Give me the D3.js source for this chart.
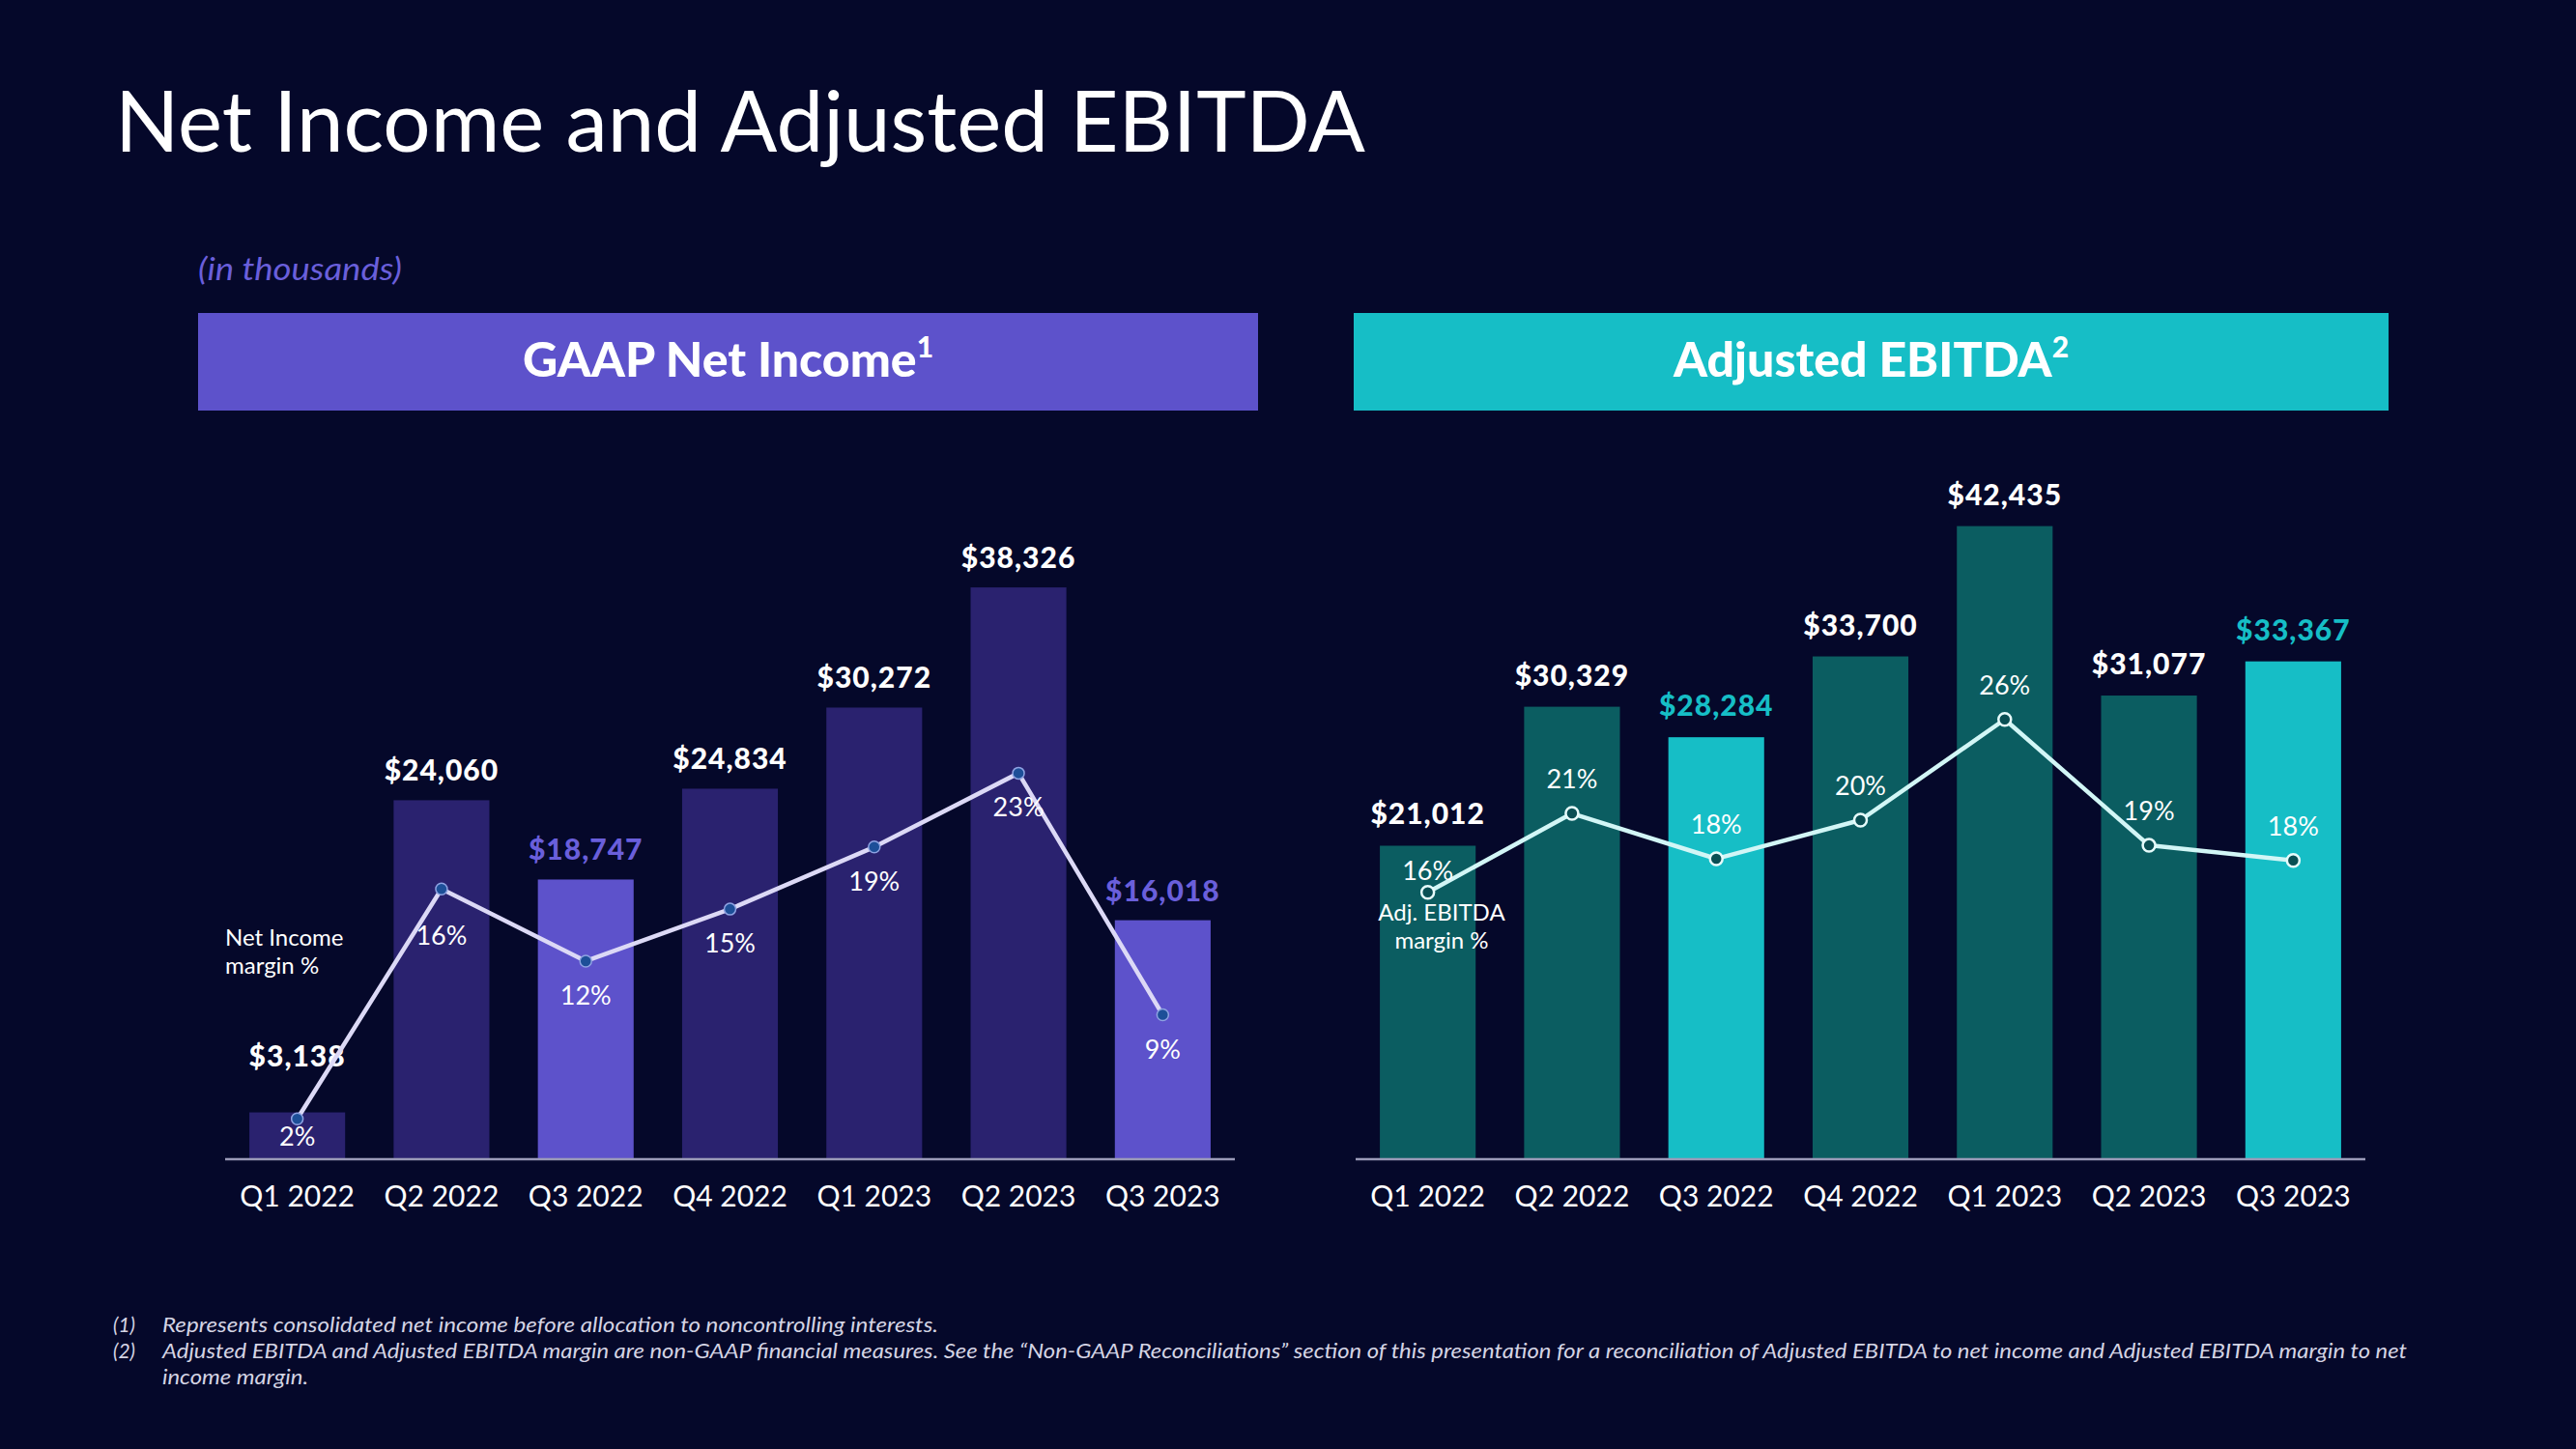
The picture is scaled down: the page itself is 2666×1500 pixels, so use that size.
<!DOCTYPE html>
<html>
<head>
<meta charset="utf-8">
<script src="https://cdn.jsdelivr.net/npm/d3@7"></script>
<style>
  html, body { margin: 0; padding: 0; background: #05082a; }
  svg { display: block; }
</style>
</head>
<body>
<script>
// ---------- DATA ----------
const quarters = ["Q1 2022", "Q2 2022", "Q3 2022", "Q4 2022", "Q1 2023", "Q2 2023", "Q3 2023"];
const netIncome = [3138, 24060, 18747, 24834, 30272, 38326, 16018];          // $ thousands
const netIncomeMargin = [2.4, 16.1, 11.8, 14.9, 18.6, 23.0, 8.6];            // %
const adjEbitda = [21012, 30329, 28284, 33700, 42435, 31077, 33367];        // $ thousands
const adjEbitdaMargin = [15.9, 20.6, 17.9, 20.2, 26.2, 18.7, 17.8];          // %
const highlightQuarters = ["Q3 2022", "Q3 2023"];

const titleText = "Net Income and Adjusted EBITDA";
const unitText = "(in thousands)";
const footnotes = [
  ["(1)", "Represents consolidated net income before allocation to noncontrolling interests."],
  ["(2)", "Adjusted EBITDA and Adjusted EBITDA margin are non-GAAP financial measures. See the \u201cNon-GAAP Reconciliations\u201d section of this presentation  for a reconciliation of Adjusted EBITDA to net income and Adjusted EBITDA margin to net"],
  ["", "income margin."]
];

// ---------- STYLE ----------
const W = 2666, H = 1500;
const BG = "#05082a";
const FONT = "Lato, 'Open Sans', sans-serif";
const PURPLE = "#5d52cb", PURPLE_DARK = "#2a226f", PURPLE_TEXT = "#6a5fdb";
const TEAL = "#16bec6", TEAL_DARK = "#0b5d61";

const svg = d3.select("body").append("svg").attr("width", W).attr("height", H);
svg.append("rect").attr("width", W).attr("height", H).attr("fill", BG);

// Title
svg.append("text").attr("x", 119).attr("y", 157)
  .attr("font-family", FONT).attr("font-size", 88).attr("fill", "#ffffff")
  .attr("textLength", 1294).attr("lengthAdjust", "spacingAndGlyphs")
  .text(titleText);

svg.append("text").attr("x", 205).attr("y", 290)
  .attr("font-family", FONT).attr("font-style", "italic").attr("font-size", 32)
  .attr("fill", "#6a5fdb").attr("textLength", 211).attr("lengthAdjust", "spacingAndGlyphs")
  .text(unitText);

// Scales
const baseY = 1200, topY = 505;
const y = d3.scaleLinear().domain([0, 45000]).range([baseY, topY]);
const y2 = d3.scaleLinear().domain([0, 40]).range([baseY, topY]);
const fmtMoney = v => "$" + d3.format(",")(v);
const fmtPct = v => d3.format(".0f")(v) + "%";

function panel(opts) {
  const g = svg.append("g");
  // header
  g.append("rect").attr("x", opts.boxX0).attr("y", 324)
    .attr("width", opts.boxX1 - opts.boxX0).attr("height", 101).attr("fill", opts.boxColor);
  const ht = g.append("text").attr("x", (opts.boxX0 + opts.boxX1) / 2).attr("y", 390)
    .attr("text-anchor", "middle").attr("font-family", FONT).attr("font-weight", 900)
    .attr("font-size", 50).attr("fill", "#ffffff");
  ht.append("tspan").text(opts.header);
  ht.append("tspan").attr("dy", -20).attr("font-size", 30).text(opts.sup);

  const x = d3.scaleBand().domain(quarters).range([opts.axX0, opts.axX1])
    .paddingInner(0.336).paddingOuter(0.168);

  // bars
  g.selectAll("rect.bar").data(quarters).enter().append("rect").attr("class", "bar")
    .attr("x", d => x(d)).attr("width", x.bandwidth())
    .attr("y", (d, i) => y(opts.values[i]))
    .attr("height", (d, i) => baseY - y(opts.values[i]))
    .attr("fill", d => highlightQuarters.includes(d) ? opts.hiColor : opts.darkColor);

  // axis
  const axis = d3.axisBottom(x).tickSize(0).tickPadding(28);
  const ag = g.append("g").attr("transform", `translate(0,${baseY})`).call(axis);
  ag.select(".domain").attr("stroke", "#9a9ab8").attr("stroke-width", 2.5)
    .attr("d", `M${opts.axX0},0H${opts.axX1}`);
  ag.selectAll(".tick text").attr("font-family", FONT).attr("font-size", 30)
    .attr("fill", "#ffffff").attr("dy", "0.71em");

  // value labels
  g.selectAll("text.val").data(quarters).enter().append("text").attr("class", "val")
    .attr("x", d => x(d) + x.bandwidth() / 2)
    .attr("y", (d, i) => y(opts.values[i]) - opts.valGap(i))
    .attr("text-anchor", "middle").attr("font-family", FONT).attr("font-weight", 900)
    .attr("font-size", 30).attr("letter-spacing", 1)
    .attr("fill", d => highlightQuarters.includes(d) ? opts.hiText : "#ffffff")
    .text((d, i) => fmtMoney(opts.values[i]));

  // margin line
  const line = d3.line().x((d, i) => x(quarters[i]) + x.bandwidth() / 2).y(d => y2(d));
  g.append("path").datum(opts.margins).attr("d", line).attr("fill", "none")
    .attr("stroke", opts.lineColor).attr("stroke-width", 4.5).attr("stroke-linejoin", "round");

  g.selectAll("circle.pt").data(opts.margins).enter().append("circle").attr("class", "pt")
    .attr("cx", (d, i) => x(quarters[i]) + x.bandwidth() / 2).attr("cy", d => y2(d))
    .attr("r", opts.markerR).attr("fill", opts.markerFill)
    .attr("stroke", opts.markerStroke).attr("stroke-width", opts.markerSW);

  g.selectAll("text.pct").data(opts.margins).enter().append("text").attr("class", "pct")
    .attr("x", (d, i) => x(quarters[i]) + x.bandwidth() / 2)
    .attr("y", (d, i) => opts.pctY(y2(d), i))
    .attr("text-anchor", "middle").attr("font-family", FONT).attr("font-size", 27)
    .attr("fill", "#ffffff").text(d => fmtPct(d));

  // annotation
  const an = g.append("text").attr("font-family", FONT).attr("font-size", 24)
    .attr("fill", "#ffffff").attr("text-anchor", opts.annAnchor);
  opts.annLines.forEach((t, k) => {
    an.append("tspan").attr("x", opts.annX).attr("y", opts.annY + k * 29).text(t);
  });
  return x;
}

panel({
  boxX0: 205, boxX1: 1302, boxColor: PURPLE, header: "GAAP Net Income", sup: "1",
  axX0: 233, axX1: 1278,
  values: netIncome, margins: netIncomeMargin,
  darkColor: PURPLE_DARK, hiColor: PURPLE, hiText: PURPLE_TEXT,
  valGap: i => i === 0 ? 48 : 20,
  lineColor: "#dcd9f6", markerR: 6, markerFill: "#1d4f98", markerStroke: "#8ea2e2", markerSW: 1.5,
  pctY: (py, i) => Math.min(py + (i === 1 ? 58 : 45), baseY - 14),
  annLines: ["Net Income", "margin %"], annX: 233, annY: 979, annAnchor: "start"
});

panel({
  boxX0: 1401, boxX1: 2472, boxColor: TEAL, header: "Adjusted EBITDA", sup: "2",
  axX0: 1403, axX1: 2448,
  values: adjEbitda, margins: adjEbitdaMargin,
  darkColor: TEAL_DARK, hiColor: TEAL, hiText: TEAL,
  valGap: i => 22,
  lineColor: "#d2f6f6", markerR: 6.5, markerFill: "#0a4f54", markerStroke: "#e6fbfb", markerSW: 2.5,
  pctY: (py, i) => py - (i === 0 ? 13 : 26),
  annLines: ["Adj. EBITDA", "margin %"], annX: 1492, annY: 953, annAnchor: "middle"
});

// Footnotes
const fn = svg.append("g").attr("font-family", FONT).attr("font-style", "italic")
  .attr("font-size", 21).attr("fill", "#d4d4e4");
const fnWidths = [803, 2323, 151];
footnotes.forEach((f, k) => {
  const yy = 1379 + k * 27;
  if (f[0]) fn.append("text").attr("x", 117).attr("y", yy).text(f[0]);
  fn.append("text").attr("x", 168).attr("y", yy)
    .attr("textLength", fnWidths[k]).attr("lengthAdjust", "spacingAndGlyphs").text(f[1]);
});
</script>
</body>
</html>
